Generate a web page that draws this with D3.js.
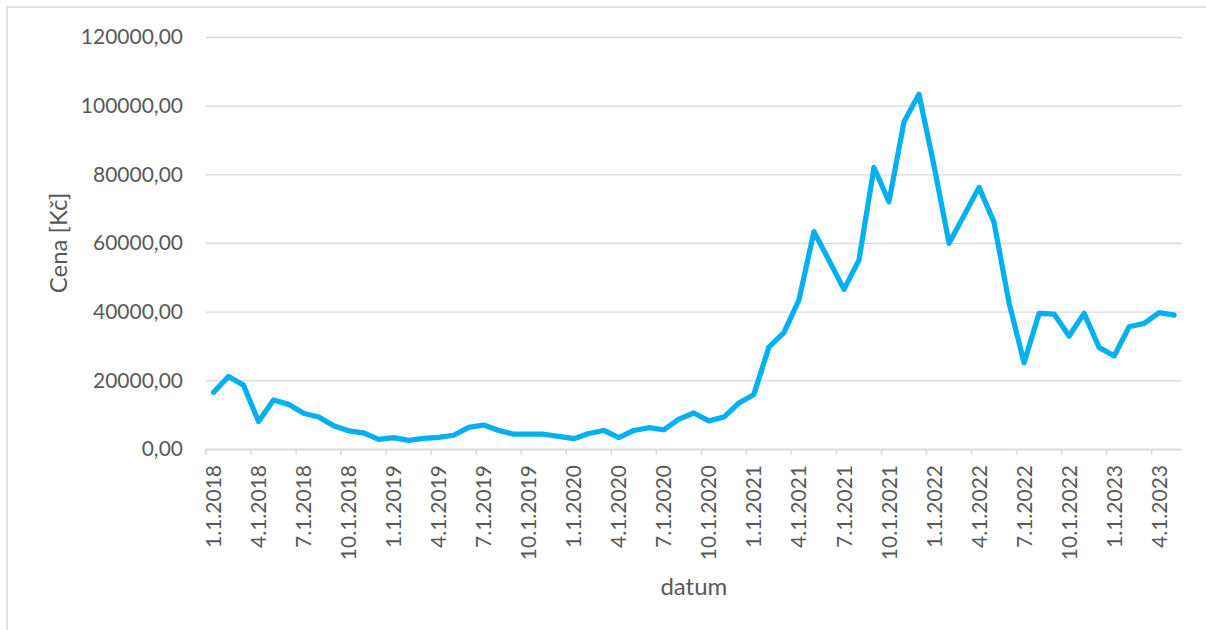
<!DOCTYPE html>
<html>
<head>
<meta charset="utf-8">
<script src="https://cdn.jsdelivr.net/npm/d3@7"></script>
<style>
  html, body { margin: 0; padding: 0; background: #fff; }
  svg { display: block; }
  text { font-family: Lato, "Open Sans", sans-serif; fill: #595959; }
</style>
</head>
<body>
<svg id="chart" width="1206" height="630"></svg>
<script>
// ---- data ----
const categories = [
  "1.1.2018","2.1.2018","3.1.2018","4.1.2018","5.1.2018","6.1.2018","7.1.2018","8.1.2018","9.1.2018","10.1.2018","11.1.2018","12.1.2018",
  "1.1.2019","2.1.2019","3.1.2019","4.1.2019","5.1.2019","6.1.2019","7.1.2019","8.1.2019","9.1.2019","10.1.2019","11.1.2019","12.1.2019",
  "1.1.2020","2.1.2020","3.1.2020","4.1.2020","5.1.2020","6.1.2020","7.1.2020","8.1.2020","9.1.2020","10.1.2020","11.1.2020","12.1.2020",
  "1.1.2021","2.1.2021","3.1.2021","4.1.2021","5.1.2021","6.1.2021","7.1.2021","8.1.2021","9.1.2021","10.1.2021","11.1.2021","12.1.2021",
  "1.1.2022","2.1.2022","3.1.2022","4.1.2022","5.1.2022","6.1.2022","7.1.2022","8.1.2022","9.1.2022","10.1.2022","11.1.2022","12.1.2022",
  "1.1.2023","2.1.2023","3.1.2023","4.1.2023","5.1.2023"
];
const prices = [
  16500, 21100, 18600, 8000, 14300, 13000, 10400, 9300, 6800, 5300, 4700, 2800,
  3300, 2500, 3100, 3400, 4000, 6300, 7000, 5400, 4300, 4300, 4300, 3700,
  3000, 4500, 5400, 3300, 5400, 6200, 5600, 8700, 10500, 8200, 9300, 13400,
  15900, 29700, 33900, 43400, 63300, 55000, 46500, 55000, 82000, 72000, 95300, 103300,
  82500, 59900, 68000, 76200, 66000, 42500, 25100, 39500, 39300, 32900, 39500, 29600,
  27100, 35600, 36600, 39700, 39000
];
const yTicks = [0, 20000, 40000, 60000, 80000, 100000, 120000];
const xLabelEvery = 3;
const yTitle = "Cena [Kč]";
const xTitle = "datum";

// ---- layout ----
const svg = d3.select("#chart");
const plot = { left: 206, right: 1181.7, top: 37, bottom: 449 };
const grid = "#D9D9D9";

svg.append("rect")
  .attr("x", 7).attr("y", 7).attr("width", 1250).attr("height", 700)
  .attr("fill", "#fff").attr("stroke", grid).attr("stroke-width", 1.5);

const x = d3.scaleBand().domain(categories).range([plot.left, plot.right]).padding(0);
const y = d3.scaleLinear().domain([0, 120000]).range([plot.bottom, plot.top]);

const fmt = v => d3.format(".2f")(v).replace(".", ",");

// y axis with gridlines
const yAxis = svg.append("g")
  .attr("transform", `translate(${plot.left},0)`)
  .call(d3.axisLeft(y).tickValues(yTicks).tickFormat(fmt)
    .tickSize(-(plot.right - plot.left)).tickPadding(23));
yAxis.select(".domain").remove();
yAxis.selectAll(".tick line").attr("stroke", grid).attr("stroke-width", 1.3);
yAxis.selectAll(".tick text").attr("font-size", 21).attr("fill", "#595959")
  .style("font-family", "Lato, 'Open Sans', sans-serif");

// x axis: labels at category centers, ticks at category boundaries
const labelCats = categories.filter((d, i) => i % xLabelEvery === 0);
const xAxis = svg.append("g")
  .attr("transform", `translate(0,${plot.bottom})`)
  .call(d3.axisBottom(x).tickValues(labelCats).tickSize(0));
xAxis.select(".domain").attr("stroke", grid).attr("stroke-width", 1.5);
xAxis.selectAll(".tick text")
  .attr("font-size", 21).attr("fill", "#595959")
  .style("font-family", "Lato, 'Open Sans', sans-serif")
  .attr("transform", "rotate(-90)")
  .attr("text-anchor", "end")
  .attr("x", -16).attr("y", 0).attr("dy", "0.36em");

svg.append("g").selectAll("line")
  .data(labelCats)
  .join("line")
  .attr("x1", d => x(d)).attr("x2", d => x(d))
  .attr("y1", plot.bottom).attr("y2", plot.bottom + 6)
  .attr("stroke", grid).attr("stroke-width", 1.5);

// line
const line = d3.line()
  .x((d, i) => x(categories[i]) + x.bandwidth() / 2)
  .y(d => y(d));
svg.append("path")
  .datum(prices)
  .attr("d", line)
  .attr("fill", "none")
  .attr("stroke", "#00B0F0")
  .attr("stroke-width", 5.25)
  .attr("stroke-linejoin", "round")
  .attr("stroke-linecap", "round");

// titles
svg.append("text")
  .attr("transform", `translate(67,${(plot.top + plot.bottom) / 2}) rotate(-90)`)
  .attr("text-anchor", "middle")
  .attr("font-size", 24)
  .text(yTitle);

svg.append("text")
  .attr("x", (plot.left + plot.right) / 2).attr("y", 595)
  .attr("text-anchor", "middle")
  .attr("font-size", 24)
  .text(xTitle);
</script>
</body>
</html>
